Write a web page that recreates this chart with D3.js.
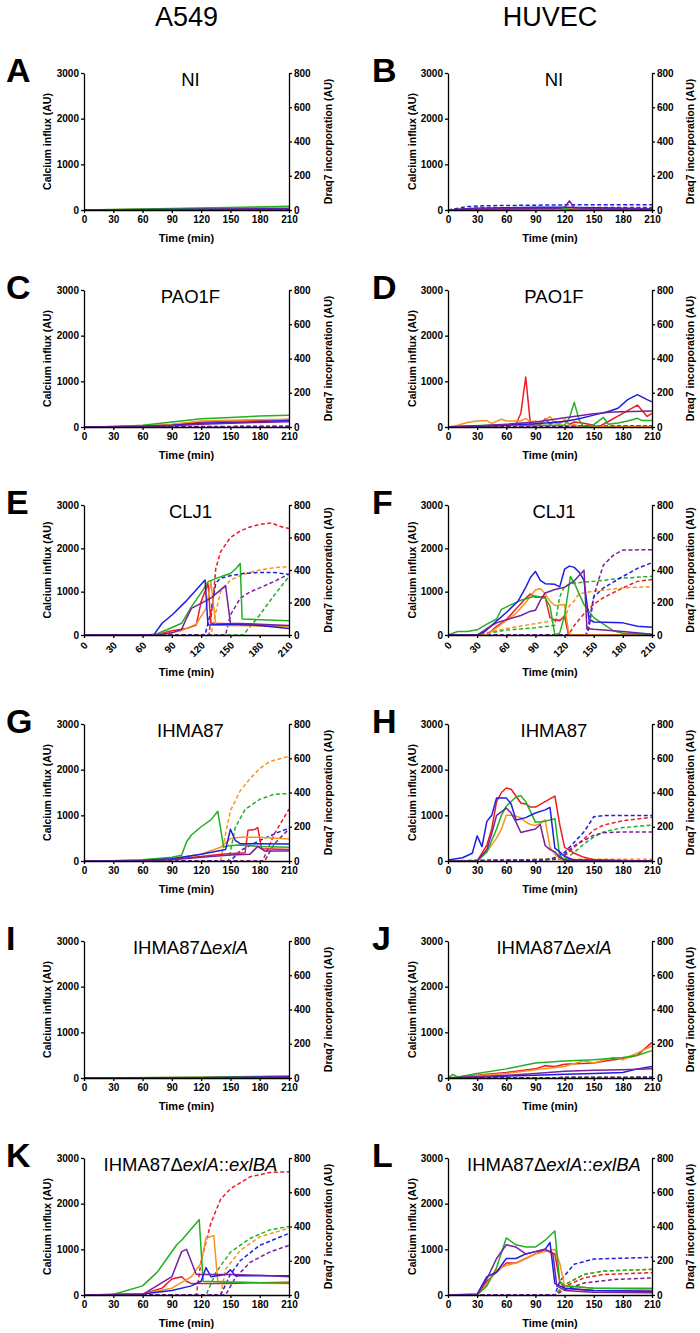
<!DOCTYPE html>
<html>
<head>
<meta charset="utf-8">
<script src="https://cdn.jsdelivr.net/npm/d3@7"></script>
<style>
body { margin: 0; background: #fff; }
text { font-family: "Liberation Sans", Arial, sans-serif; fill: #000; }
.tick text { font-weight: bold; font-size: 10px; }
.domain, .tick line { stroke: #000; stroke-width: 1.3px; }
</style>
</head>
<body>
<svg id="fig" width="700" height="1333"></svg>
<script>

// ------------------------------------------------------------------
// Data. ca = calcium influx (left axis, solid),
// dq = Draq7 incorporation (right axis, dashed). Points are [min, AU].
// ------------------------------------------------------------------
var timeTicks = [0, 30, 60, 90, 120, 150, 180, 210];
var calciumTicks = [0, 1000, 2000, 3000];
var draqTicks = [0, 200, 400, 600, 800];
var columnTitles = ["A549", "HUVEC"];
var seriesOrder = ["red", "orange", "green", "blue", "purple"];

// A - A549 NI
var caA = {
    red: [[0,0],[60,10],[120,20],[210,40]],
    orange: [[0,0],[60,15],[120,35],[210,65]],
    green: [[0,0],[60,20],[120,45],[210,80]],
    blue: [[0,0],[120,15],[210,25]],
    purple: [[0,0],[120,10],[210,20]]
};
var dqA = {
    red: [[0,0],[210,2]], orange: [[0,0],[210,3]], green: [[0,0],[210,2]],
    blue: [[0,0],[210,2]], purple: [[0,0],[210,1]]
};

// B - HUVEC NI
var caB = {
    red: [[0,0],[30,20],[90,30],[150,40],[210,20]],
    orange: [[0,0],[60,20],[120,20],[210,15]],
    green: [[0,0],[60,10],[120,40],[125,10],[210,10]],
    blue: [[0,0],[30,40],[60,50],[90,60],[120,60],[150,50],[180,40],[210,30]],
    purple: [[0,0],[30,30],[60,30],[90,40],[115,40],[120,60],[125,200],[130,50],[150,30],[210,20]]
};
var dqB = {
    red: [[0,0],[210,5]], orange: [[0,0],[210,5]], green: [[0,0],[210,4]],
    blue: [[0,0],[20,20],[40,25],[120,30],[210,30]],
    purple: [[0,0],[30,12],[210,15]]
};

// C - A549 PAO1F
var caC = {
    red: [[0,0],[60,15],[90,50],[120,110],[150,130],[180,150],[210,165]],
    orange: [[0,0],[60,20],[90,60],[120,130],[150,150],[180,160],[210,170]],
    green: [[0,0],[30,5],[60,40],[90,110],[120,180],[150,210],[180,240],[210,260]],
    blue: [[0,0],[60,15],[90,40],[120,80],[150,100],[180,120],[210,140]],
    purple: [[0,0],[60,10],[90,30],[120,60],[150,80],[180,100],[210,115]]
};
var dqC = {
    red: [[0,0],[210,4]], orange: [[0,0],[210,5]], green: [[0,0],[210,3]],
    blue: [[0,0],[210,3]], purple: [[0,0],[210,2]]
};

// D - HUVEC PAO1F
var caD = {
    red: [[0,0],[30,20],[45,30],[60,40],[70,60],[75,300],[80,1095],[85,30],[90,80],[95,60],[100,180],[105,60],[110,120],[115,80],[120,150],[125,60],[130,110],[140,80],[150,40],[155,0],[165,120],[180,300],[195,480],[205,230],[210,300]],
    orange: [[0,0],[10,40],[20,100],[30,130],[40,140],[45,80],[55,170],[60,130],[75,130],[80,190],[85,110],[90,130],[95,100],[100,150],[105,230],[110,80],[115,60],[120,170],[125,30],[130,60],[135,0],[150,10],[210,10]],
    green: [[0,0],[20,20],[40,40],[60,50],[80,40],[100,40],[120,40],[125,200],[130,540],[135,150],[140,0],[150,50],[160,210],[165,60],[175,90],[185,130],[195,190],[200,140],[210,140]],
    blue: [[0,0],[30,20],[60,40],[90,70],[120,120],[135,180],[150,260],[165,340],[175,410],[185,600],[195,710],[205,600],[210,550]],
    purple: [[0,0],[30,20],[60,60],[90,110],[120,200],[150,290],[170,330],[190,340],[210,350]]
};
var dqD = {
    red: [[0,0],[210,5]], orange: [[0,0],[210,5]], green: [[0,0],[210,5]],
    blue: [[0,0],[210,8]], purple: [[0,0],[210,6]]
};

// E - A549 CLJ1
var caE = {
    red: [[0,0],[72,0],[80,40],[90,100],[105,150],[115,230],[120,770],[127,1190],[130,270],[150,260],[180,230],[210,200]],
    orange: [[0,0],[75,0],[85,40],[100,100],[115,250],[125,615],[130,1230],[135,230],[150,220],[180,210],[210,200]],
    green: [[0,0],[72,0],[78,60],[85,120],[100,270],[110,650],[122,1040],[127,1230],[135,1300],[145,1385],[150,1420],[156,1540],[160,1650],[162,370],[210,330]],
    blue: [[0,0],[65,0],[72,20],[80,270],[91,480],[104,770],[124,1270],[127,230],[150,250],[180,220],[210,150]],
    purple: [[0,0],[75,0],[90,50],[100,130],[105,385],[110,615],[130,850],[145,1140],[150,270],[180,250],[210,220]]
};
var dqE = {
    red: [[0,0],[128,0],[132,200],[135,410],[140,513],[150,600],[160,640],[170,665],[180,680],[192,690],[200,670],[210,655]],
    orange: [[0,0],[130,0],[135,140],[140,267],[150,338],[160,365],[170,385],[180,400],[195,415],[210,420]],
    green: [[0,0],[163,0],[170,50],[180,123],[195,246],[210,360]],
    blue: [[0,0],[124,0],[130,144],[135,320],[140,350],[150,365],[165,380],[180,385],[195,385],[210,373]],
    purple: [[0,0],[145,0],[150,123],[160,226],[170,265],[180,290],[195,330],[210,375]]
};

// F - HUVEC CLJ1
var caF = {
    red: [[0,0],[40,0],[50,200],[60,350],[70,600],[80,850],[85,950],[90,870],[100,880],[105,400],[110,350],[115,330],[120,444],[124,0],[210,0]],
    orange: [[0,0],[40,0],[55,250],[70,500],[80,750],[90,1037],[95,1074],[100,950],[105,780],[110,680],[118,700],[120,703],[124,75],[126,0],[210,0]],
    green: [[0,0],[10,80],[20,80],[30,120],[40,250],[50,370],[55,590],[65,700],[75,800],[90,900],[100,850],[105,666],[110,0],[115,50],[120,450],[126,1350],[130,1200],[140,700],[150,400],[160,250],[170,100],[180,40],[210,10]],
    blue: [[0,0],[30,0],[38,80],[45,222],[60,518],[72,778],[80,1100],[85,1333],[90,1467],[95,1260],[100,1185],[110,1170],[115,1111],[120,1518],[125,1590],[130,1560],[135,1450],[140,1260],[145,370],[150,300],[180,280],[195,200],[210,180]],
    purple: [[0,0],[30,0],[40,150],[50,280],[60,350],[75,450],[85,550],[90,570],[95,800],[100,970],[110,1050],[120,1100],[130,1250],[140,1496],[143,150],[150,130],[180,80],[210,20]]
};
var dqF = {
    red: [[0,0],[124,0],[130,59],[140,130],[150,190],[160,230],[180,290],[195,330],[210,341]],
    orange: [[0,0],[30,0],[60,40],[90,70],[120,100],[125,180],[130,210],[135,254],[150,270],[180,290],[210,297]],
    green: [[0,0],[30,0],[45,15],[60,30],[90,45],[105,55],[110,60],[115,234],[120,300],[130,320],[150,330],[180,350],[210,361]],
    blue: [[0,0],[143,0],[145,39],[150,234],[160,290],[180,360],[195,410],[210,445]],
    purple: [[0,0],[142,0],[145,80],[150,234],[155,340],[160,430],[170,490],[180,523],[210,525]]
};

// G - A549 IHMA87
var caG = {
    red: [[0,0],[60,10],[90,40],[120,100],[140,150],[165,180],[168,673],[175,690],[178,731],[182,270],[210,250]],
    orange: [[0,0],[30,5],[60,20],[90,50],[120,150],[140,300],[150,490],[160,520],[180,520],[210,480]],
    green: [[0,0],[30,5],[60,30],[90,80],[100,124],[105,417],[110,570],[120,750],[130,900],[137,1090],[143,307],[150,340],[160,350],[180,320],[210,300]],
    blue: [[0,0],[60,10],[90,50],[120,150],[145,250],[150,695],[155,450],[160,380],[210,370]],
    purple: [[0,0],[60,5],[90,30],[120,80],[150,130],[170,150],[178,320],[185,220],[210,220]]
};
var dqG = {
    red: [[0,0],[183,0],[195,158],[210,303]],
    orange: [[0,0],[140,0],[145,158],[150,294],[160,410],[170,480],[180,540],[190,580],[210,612]],
    green: [[0,0],[148,0],[155,197],[165,300],[180,360],[195,390],[210,394]],
    blue: [[0,0],[150,0],[160,60],[180,120],[200,170],[210,191]],
    purple: [[0,0],[185,0],[195,100],[210,187]]
};

// H - HUVEC IHMA87
var caH = {
    red: [[0,0],[30,0],[40,350],[45,700],[50,1300],[55,1500],[60,1600],[65,1570],[75,1270],[80,1250],[85,1180],[90,1180],[100,1300],[110,1420],[115,800],[120,300],[130,170],[140,80],[150,30],[170,10],[210,0]],
    orange: [[0,0],[30,0],[40,200],[50,500],[55,700],[60,1000],[65,1000],[70,980],[75,950],[80,850],[85,800],[90,780],[95,820],[100,900],[105,300],[110,150],[115,50],[120,0],[210,0]],
    green: [[0,0],[30,0],[40,200],[50,700],[55,1000],[60,1200],[70,1400],[75,1430],[80,1300],[90,850],[100,870],[105,900],[110,926],[115,100],[120,40],[130,0],[210,0]],
    blue: [[0,20],[15,70],[25,170],[30,550],[35,316],[40,868],[45,1000],[50,1382],[60,1382],[65,1250],[70,900],[80,950],[90,1050],[100,1120],[105,1176],[110,280],[115,200],[120,100],[130,20],[210,0]],
    purple: [[0,0],[30,0],[40,250],[45,600],[50,1000],[60,1160],[65,1050],[70,850],[75,625],[80,650],[90,700],[95,800],[100,340],[105,250],[110,200],[115,80],[120,20],[210,0]]
};
var dqH = {
    red: [[0,0],[110,10],[120,30],[130,80],[140,130],[150,180],[160,210],[180,235],[210,255]],
    orange: [[0,0],[30,5],[120,10],[210,10]],
    green: [[0,0],[120,10],[130,50],[140,100],[150,140],[160,170],[180,195],[210,210]],
    blue: [[0,0],[100,5],[110,20],[120,50],[130,110],[140,170],[150,258],[160,265],[210,265]],
    purple: [[0,0],[110,10],[120,40],[130,90],[140,120],[150,150],[160,165],[180,170],[210,170]]
};

// I - A549 IHMA87 delta exlA
var caI = {
    red: [[0,0],[120,10],[210,30]], orange: [[0,0],[120,12],[210,35]],
    green: [[0,0],[120,15],[210,45]], blue: [[0,0],[120,8],[210,25]],
    purple: [[0,0],[120,6],[210,20]]
};
var dqI = {
    red: [[0,0],[210,2]], orange: [[0,0],[210,2]], green: [[0,0],[210,2]],
    blue: [[0,0],[210,2]], purple: [[0,0],[210,2]]
};

// J - HUVEC IHMA87 delta exlA
var caJ = {
    red: [[0,0],[30,60],[60,120],[90,200],[100,270],[110,250],[120,300],[150,330],[170,400],[180,420],[195,500],[210,780]],
    orange: [[0,0],[30,50],[60,100],[90,180],[120,250],[140,380],[150,330],[170,450],[180,400],[195,550],[210,700]],
    green: [[0,0],[5,80],[10,20],[30,100],[60,200],[90,330],[120,370],[150,400],[180,450],[195,500],[210,600]],
    blue: [[0,0],[30,20],[60,40],[90,60],[120,80],[150,100],[180,120],[195,200],[210,250]],
    purple: [[0,0],[30,30],[60,60],[90,100],[120,150],[150,170],[180,180],[210,200]]
};
var dqJ = {
    red: [[0,0],[210,4]], orange: [[0,0],[210,4]], green: [[0,0],[210,4]],
    blue: [[0,0],[210,4]], purple: [[0,0],[210,4]]
};

// K - A549 IHMA87 delta exlA::exlBA
var caK = {
    red: [[0,0],[60,20],[80,150],[90,350],[100,400],[105,300],[110,250],[130,250],[150,250],[180,270],[210,280]],
    orange: [[0,0],[60,20],[90,150],[110,400],[120,700],[125,1250],[133,1300],[137,300],[180,260],[210,250]],
    green: [[0,0],[30,10],[60,200],[75,500],[85,800],[95,1100],[100,1200],[110,1450],[118,1650],[122,300],[150,280],[180,270],[210,260]],
    blue: [[0,0],[60,20],[90,100],[110,200],[120,300],[125,600],[130,400],[145,450],[150,550],[155,420],[210,420]],
    purple: [[0,0],[60,10],[90,400],[100,950],[105,1000],[115,450],[150,450],[180,430],[210,400]]
};
var dqK = {
    red: [[0,0],[115,0],[120,200],[130,420],[140,560],[150,620],[170,690],[190,715],[210,720]],
    orange: [[0,0],[140,0],[145,150],[160,260],[180,340],[210,390]],
    green: [[0,0],[125,0],[135,130],[150,250],[170,330],[190,380],[210,400]],
    blue: [[0,0],[140,0],[150,120],[160,200],[180,290],[210,360]],
    purple: [[0,0],[145,0],[155,100],[170,190],[190,250],[210,290]]
};

// L - HUVEC IHMA87 delta exlA::exlBA
var caL = {
    red: [[0,0],[30,0],[40,300],[50,500],[60,700],[70,700],[80,800],[90,900],[100,1000],[110,900],[115,300],[120,150],[150,100],[210,80]],
    orange: [[0,0],[30,0],[40,250],[50,550],[60,650],[70,700],[80,800],[90,900],[100,950],[110,1000],[115,700],[120,200],[150,150],[210,120]],
    green: [[0,0],[30,0],[40,200],[50,600],[60,1250],[70,1100],[80,1050],[90,1050],[100,1200],[110,1400],[115,300],[120,200],[150,150],[210,150]],
    blue: [[0,0],[30,20],[40,400],[50,500],[60,800],[70,800],[80,900],[90,950],[100,1000],[105,1150],[110,250],[120,150],[150,100],[210,80]],
    purple: [[0,0],[30,0],[40,350],[50,800],[60,1100],[70,1050],[80,900],[90,950],[100,1000],[108,900],[112,200],[120,100],[150,60],[210,50]]
};
var dqL = {
    red: [[0,0],[110,0],[120,50],[140,100],[160,120],[210,130]],
    orange: [[0,0],[110,0],[120,60],[140,120],[160,140],[210,150]],
    green: [[0,0],[110,0],[120,60],[140,120],[160,140],[210,150]],
    blue: [[0,0],[110,0],[115,80],[130,180],[150,210],[210,220]],
    purple: [[0,0],[110,0],[120,30],[140,70],[170,90],[210,100]]
};

// ------------------------------------------------------------------
// Panel list
// ------------------------------------------------------------------
var panels = [
    { letter: "A", col: 0, row: 0, title: [["NI", false]], ca: caA, dq: dqA },
    { letter: "B", col: 1, row: 0, title: [["NI", false]], ca: caB, dq: dqB },
    { letter: "C", col: 0, row: 1, title: [["PAO1F", false]], ca: caC, dq: dqC },
    { letter: "D", col: 1, row: 1, title: [["PAO1F", false]], ca: caD, dq: dqD },
    { letter: "E", col: 0, row: 2, title: [["CLJ1", false]], ca: caE, dq: dqE },
    { letter: "F", col: 1, row: 2, title: [["CLJ1", false]], ca: caF, dq: dqF },
    { letter: "G", col: 0, row: 3, title: [["IHMA87", false]], ca: caG, dq: dqG },
    { letter: "H", col: 1, row: 3, title: [["IHMA87", false]], ca: caH, dq: dqH },
    { letter: "I", col: 0, row: 4, title: [["IHMA87\u0394", false], ["exlA", true]], ca: caI, dq: dqI },
    { letter: "J", col: 1, row: 4, title: [["IHMA87\u0394", false], ["exlA", true]], ca: caJ, dq: dqJ },
    { letter: "K", col: 0, row: 5, title: [["IHMA87\u0394", false], ["exlA", true], ["::", false], ["exlBA", true]], ca: caK, dq: dqK },
    { letter: "L", col: 1, row: 5, title: [["IHMA87\u0394", false], ["exlA", true], ["::", false], ["exlBA", true]], ca: caL, dq: dqL }
];

var colours = {
    red: "#ec1c24",
    orange: "#f7941d",
    green: "#22b022",
    blue: "#1e1ee0",
    purple: "#7b1f9e"
};

// layout
var colX = [[84, 289], [448, 652]];
var rowY = [[73, 210], [290, 427], [505, 635], [724, 861], [941, 1078], [1158, 1295]];
var rotatedRow = 2;
var letterX = [6, 372];
var caTitleX = [47, 412];
var dqTitleX = [328, 690];

var svg = d3.select("#fig");

// column headers
columnTitles.forEach(function(t, i) {
    svg.append("text")
        .attr("x", (colX[i][0] + colX[i][1]) / 2)
        .attr("y", 26)
        .attr("text-anchor", "middle")
        .style("font-size", "27px")
        .text(t);
});

panels.forEach(drawPanel);

function drawPanel(p) {
    var x0 = colX[p.col][0], x1 = colX[p.col][1];
    var y0 = rowY[p.row][0], y1 = rowY[p.row][1];

    var x = d3.scaleLinear().domain([0, 210]).range([x0, x1]);
    var yCa = d3.scaleLinear().domain([0, 3000]).range([y1, y0]);
    var yDq = d3.scaleLinear().domain([0, 800]).range([y1, y0]);

    var g = svg.append("g");

    // lines first, axes on top
    var caLine = d3.line().x(function(d) { return x(d[0]); }).y(function(d) { return yCa(d[1]); });
    var dqLine = d3.line().x(function(d) { return x(d[0]); }).y(function(d) { return yDq(d[1]); });

    seriesOrder.forEach(function(k) {
        g.append("path")
            .attr("d", dqLine(p.dq[k]))
            .attr("fill", "none")
            .attr("stroke", colours[k])
            .attr("stroke-width", 1.5)
            .attr("stroke-dasharray", "4,2.5");
    });
    seriesOrder.forEach(function(k) {
        g.append("path")
            .attr("d", caLine(p.ca[k]))
            .attr("fill", "none")
            .attr("stroke", colours[k])
            .attr("stroke-width", 1.5)
            .attr("stroke-linejoin", "round");
    });

    // axes
    var fmt = d3.format("d");
    var xAxis = g.append("g")
        .attr("transform", "translate(0," + y1 + ")")
        .call(d3.axisBottom(x).tickValues(timeTicks).tickFormat(fmt).tickSize(3).tickSizeOuter(0).tickPadding(3));

    if (p.row === rotatedRow) {
        xAxis.selectAll(".tick text")
            .attr("text-anchor", "end")
            .attr("dy", null)
            .attr("y", 0)
            .attr("x", 0)
            .attr("transform", "translate(4,11) rotate(-45)");
    }

    g.append("g")
        .attr("transform", "translate(" + x0 + ",0)")
        .call(d3.axisLeft(yCa).tickValues(calciumTicks).tickFormat(fmt).tickSize(3).tickSizeOuter(0).tickPadding(2));

    g.append("g")
        .attr("transform", "translate(" + x1 + ",0)")
        .call(d3.axisRight(yDq).tickValues(draqTicks).tickFormat(fmt).tickSize(3).tickSizeOuter(0).tickPadding(2));

    g.selectAll(".tick text").style("font-family", "'Liberation Sans', Arial, sans-serif");

    // axis titles
    var midY = (y0 + y1) / 2;
    g.append("text")
        .attr("transform", "translate(" + caTitleX[p.col] + "," + midY + ") rotate(-90)")
        .attr("text-anchor", "middle")
        .attr("dy", "0.35em")
        .style("font-size", "10.5px")
        .style("font-weight", "bold")
        .text("Calcium influx (AU)");

    g.append("text")
        .attr("transform", "translate(" + dqTitleX[p.col] + "," + midY + ") rotate(-90)")
        .attr("text-anchor", "middle")
        .attr("dy", "0.35em")
        .style("font-size", "10.5px")
        .style("font-weight", "bold")
        .text("Draq7 incorporation (AU)");

    g.append("text")
        .attr("x", (x0 + x1) / 2)
        .attr("y", p.row === rotatedRow ? y1 + 41 : y1 + 32)
        .attr("text-anchor", "middle")
        .style("font-size", "11px")
        .style("font-weight", "bold")
        .text("Time (min)");

    // panel title with italic parts
    var t = g.append("text")
        .attr("x", (x0 + x1) / 2 + 4)
        .attr("y", y0 + 13)
        .attr("text-anchor", "middle")
        .style("font-size", "18.5px");
    p.title.forEach(function(seg) {
        t.append("tspan")
            .style("font-style", seg[1] ? "italic" : "normal")
            .text(seg[0]);
    });

    // panel letter
    g.append("text")
        .attr("x", letterX[p.col])
        .attr("y", y0 + 9)
        .style("font-size", "34px")
        .style("font-weight", "bold")
        .text(p.letter);
}
</script>
</body>
</html>
